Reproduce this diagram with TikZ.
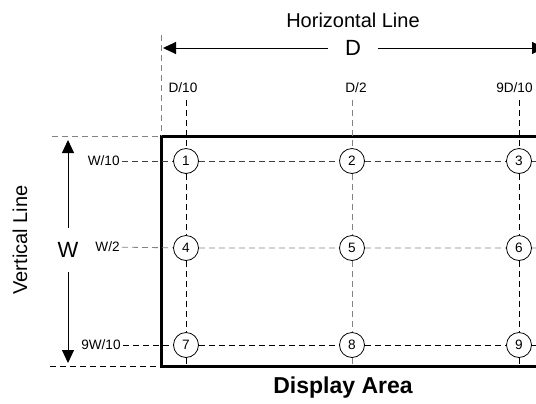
\documentclass[tikz,border=0pt]{standalone}
\usepackage{fontspec}
\setmainfont{Liberation Sans}
\usetikzlibrary{arrows.meta, positioning}
\definecolor{guidegray}{RGB}{130,130,130}

\begin{document}
\begin{tikzpicture}[x=0.5pt,y=-0.5pt,
  spot/.style={draw,circle,fill=white,inner sep=0pt,minimum size=12.5pt,font=\fontsize{6.8}{7}\selectfont},
  ticklab/.style={inner sep=1pt,font=\fontsize{6.8}{7}\selectfont},
  gridline/.style={dash pattern=on 3pt off 2pt,line width=0.5pt},
  softline/.style={gridline,guidegray,line width=0.4pt},
  dimarrow/.style={-{Triangle[length=6.5pt,width=6pt]},line width=0.5pt}]
\clip (0,0) rectangle (536,403);
% Display area
\coordinate (tl) at (161,136);
\coordinate (br) at (548,366);
\draw[line width=1.5pt] (tl) rectangle (br);
\node[font=\bfseries\fontsize{11.5}{13}\selectfont] (area) at (343,388) {Display Area};
% Horizontal line
\node[font=\fontsize{10}{11}\selectfont] (hline) at (353,20) {Horizontal Line};
\node[font=\fontsize{11}{12}\selectfont,inner sep=8.5pt] (dlab) at (353,48) {D};
\coordinate (dl) at (163,48);
\coordinate (dr) at (545,48);
\draw[dimarrow] (dlab) -- (dl);
\draw[dimarrow] (dlab) -- (dr);
\coordinate (edgetop) at (161,35);
\draw[softline] (edgetop) -- (tl);
% Vertical line
\node[font=\fontsize{10}{11}\selectfont,rotate=90] (vline) at (20,240) {Vertical Line};
\node[font=\fontsize{11}{12}\selectfont,inner sep=7pt] (wlab) at (68,250) {W};
\coordinate (wt) at (68,140);
\coordinate (wb) at (68,363);
\draw[dimarrow] (wlab) -- (wt);
\draw[dimarrow] (wlab) -- (wb);
\coordinate (ltop) at (52,136);
\coordinate (lbot) at (50,366);
\coordinate (rbot) at (161,366);
\draw[softline] (ltop) -- (tl);
\draw[gridline] (lbot) -- (rbot);
% Measuring points
\foreach \n/\x/\y in {1/186/161,2/352/161,3/519/161,
                      4/186/248,5/352/248,6/519/248,
                      7/186/345,8/352/345,9/519/345}
  \node[spot] (p\n) at (\x,\y) {\n};
% Column ticks
\node[ticklab] (c1) at (183,88) {D/10};
\node[ticklab] (c2) at (356,88) {D/2};
\node[ticklab,anchor=east] (c3) at (535,88) {9D/10};
\coordinate (c1top) at (186,100);
\coordinate (c2top) at (352,100);
\coordinate (c3top) at (519,100);
\coordinate (c1bot) at (186,366);
\coordinate (c2bot) at (352,366);
\coordinate (c3bot) at (519,366);
\draw[gridline] (c1top) -- (p1) (p1) -- (p4) (p4) -- (p7) (p7) -- (c1bot);
\draw[softline] (c2top) -- (p2) (p2) -- (p5) (p5) -- (p8) (p8) -- (c2bot);
\draw[gridline] (c3top) -- (p3) (p3) -- (p6) (p6) -- (p9) (p9) -- (c3bot);
% Row ticks
\node[ticklab,anchor=east] (r1) at (122,161) {W/10};
\node[ticklab,anchor=east] (r2) at (122,247) {W/2};
\node[ticklab,anchor=east] (r3) at (123,345) {9W/10};
\coordinate (r1end) at (540,161);
\coordinate (r2end) at (540,248);
\coordinate (r3end) at (540,345);
\draw[gridline,black!75] (r1) -- (p1) (p1) -- (p2) (p2) -- (p3) (p3) -- (r1end);
\draw[softline] (r2) -- (p4) (p4) -- (p5) (p5) -- (p6) (p6) -- (r2end);
\draw[gridline] (r3) -- (p7) (p7) -- (p8) (p8) -- (p9) (p9) -- (r3end);
\end{tikzpicture}
\end{document}
